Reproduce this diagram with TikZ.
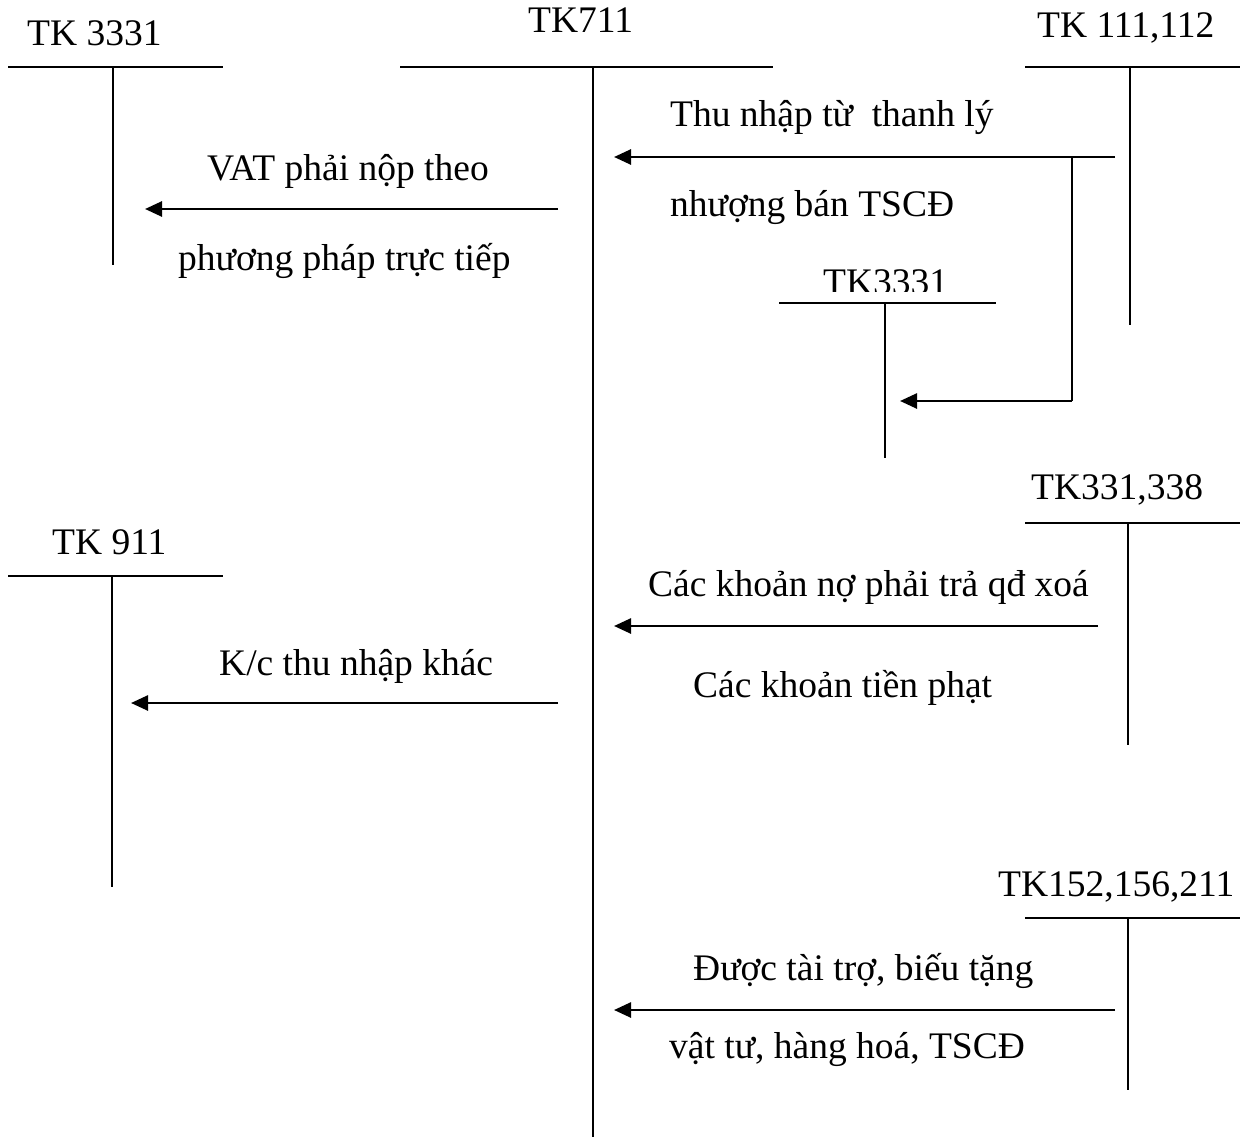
\documentclass[tikz,border=0pt]{standalone}
\usepackage{fontspec}
\setmainfont{Liberation Serif}
\usetikzlibrary{arrows.meta}
\begin{document}
\begin{tikzpicture}[x=1pt,y=-1pt,
  lbl/.style={anchor=base west,inner sep=0pt,font=\fontsize{37.5}{44}\selectfont},
  tline/.style={line width=2pt},
  arr/.style={line width=2.6pt,-{Triangle[length=17pt,width=15pt]}}]
\useasboundingbox (0,0) rectangle (1248,1137);
% T accounts
\node[lbl] (l3331) at (27,46) {TK 3331};
\coordinate (a1) at (8,67); \coordinate (a2) at (223,67);
\coordinate (a3) at (113,67); \coordinate (a4) at (113,265);
\draw[tline] (a1) -- (a2); \draw[tline] (a3) -- (a4);

\node[lbl] (l711) at (528,33) {TK711};
\coordinate (b1) at (400,67); \coordinate (b2) at (773,67);
\coordinate (b3) at (593,67); \coordinate (b4) at (593,1137);
\draw[tline] (b1) -- (b2); \draw[tline] (b3) -- (b4);

\node[lbl] (l111) at (1037,38) {TK 111,112};
\coordinate (c1) at (1025,67); \coordinate (c2) at (1240,67);
\coordinate (c3) at (1130,67); \coordinate (c4) at (1130,325);
\draw[tline] (c1) -- (c2); \draw[tline] (c3) -- (c4);

\begin{scope}
\clip (760,250) rectangle (1010,291);
\node[lbl] (l3331b) at (823,294) {TK3331};
\end{scope}
\coordinate (d1) at (779,303); \coordinate (d2) at (996,303);
\coordinate (d3) at (885,303); \coordinate (d4) at (885,458);
\draw[tline] (d1) -- (d2); \draw[tline] (d3) -- (d4);

\node[lbl] (l331) at (1031,499) {TK331,338};
\coordinate (e1) at (1025,523); \coordinate (e2) at (1240,523);
\coordinate (e3) at (1128,523); \coordinate (e4) at (1128,745);
\draw[tline] (e1) -- (e2); \draw[tline] (e3) -- (e4);

\node[lbl] (l911) at (52,554) {TK 911};
\coordinate (f1) at (8,576); \coordinate (f2) at (223,576);
\coordinate (f3) at (112,576); \coordinate (f4) at (112,887);
\draw[tline] (f1) -- (f2); \draw[tline] (f3) -- (f4);

\node[lbl] (l152) at (998,896) {TK152,156,211};
\coordinate (g1) at (1025,918); \coordinate (g2) at (1240,918);
\coordinate (g3) at (1128,918); \coordinate (g4) at (1128,1090);
\draw[tline] (g1) -- (g2); \draw[tline] (g3) -- (g4);

% arrows
\coordinate (p1s) at (1115,157); \coordinate (p1e) at (614,157);
\draw[arr] (p1s) -- (p1e);
\coordinate (p2s) at (1072,157); \coordinate (p2m) at (1072,401); \coordinate (p2e) at (900,401);
\draw[tline] (p2s) -- (p2m);
\draw[arr] (p2m) -- (p2e);
\node[lbl] (t1) at (670,127) {Thu nhập từ\ \ thanh lý};
\node[lbl] (t2) at (670,216) {nhượng bán TSCĐ};

\coordinate (p3s) at (558,209); \coordinate (p3e) at (145,209);
\draw[arr] (p3s) -- (p3e);
\node[lbl] (t3) at (207,180) {VAT phải nộp theo};
\node[lbl] (t4) at (178,270) {phương pháp trực tiếp};

\coordinate (p4s) at (1098,626); \coordinate (p4e) at (614,626);
\draw[arr] (p4s) -- (p4e);
\node[lbl] (t5) at (648,596) {Các khoản nợ phải trả qđ xoá};
\node[lbl] (t6) at (693,697) {Các khoản tiền phạt};

\coordinate (p5s) at (558,703); \coordinate (p5e) at (131,703);
\draw[arr] (p5s) -- (p5e);
\node[lbl] (t7) at (219,675) {K/c thu nhập khác};

\coordinate (p6s) at (1115,1010); \coordinate (p6e) at (614,1010);
\draw[arr] (p6s) -- (p6e);
\node[lbl] (t8) at (693,980) {Được tài trợ, biếu tặng};
\node[lbl] (t9) at (669,1058) {vật tư, hàng hoá, TSCĐ};
\end{tikzpicture}
\end{document}
